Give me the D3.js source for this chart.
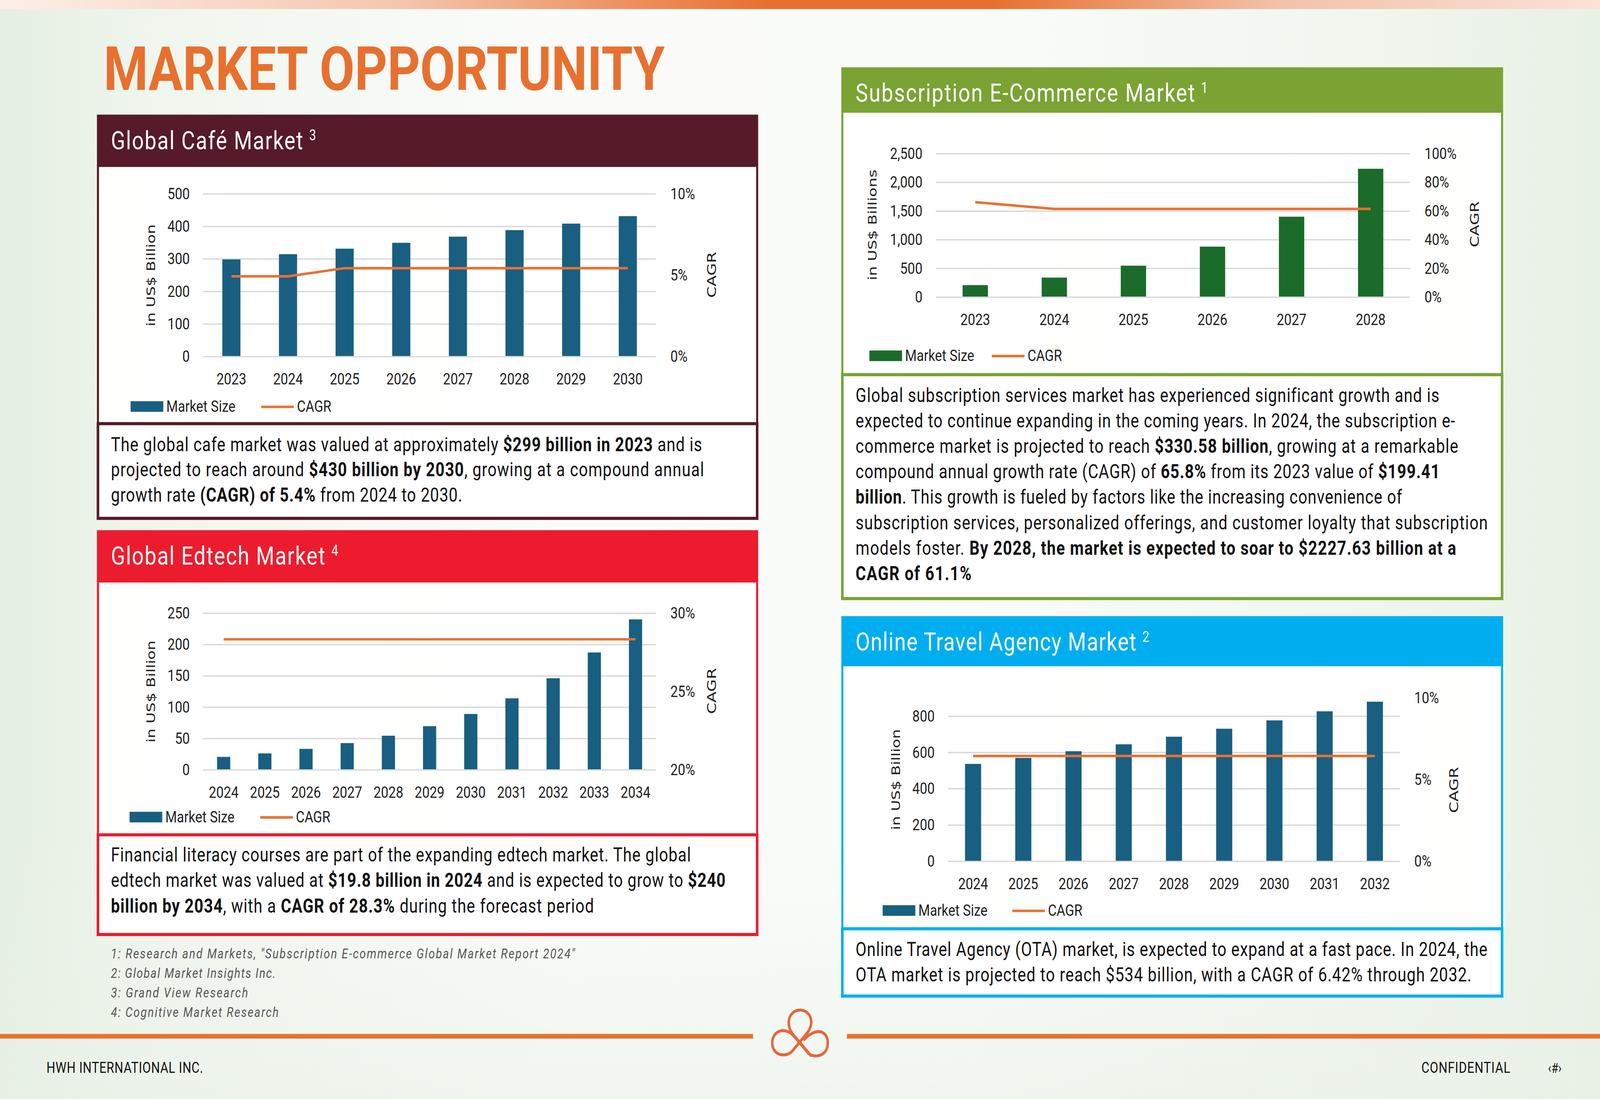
<!DOCTYPE html>
<html>
<head>
<meta charset="utf-8">
<script src="https://cdn.jsdelivr.net/npm/d3@7"></script>
<style>
html, body { margin: 0; padding: 0; width: 100%; height: 100%; overflow: hidden; background: #f3f7f1; }
svg { display: block; width: 100vw; height: 100vh; }
text { font-family: Roboto, "Noto Sans", sans-serif; white-space: pre; }
</style>
</head>
<body>
<svg id="slide" viewBox="0 0 1568 882" preserveAspectRatio="none"></svg>
<script>
'use strict'

// Global Café Market (US$ billion, CAGR %)
const cafeYears = ['2023', '2024', '2025', '2026', '2027', '2028', '2029', '2030'];
const cafeSize = [297, 313, 330, 348, 367, 387, 407, 430];
const cafeCagr = [4.9, 4.9, 5.4, 5.4, 5.4, 5.4, 5.4, 5.4];
const cafeSizeTicks = [0, 100, 200, 300, 400, 500];
const cafeCagrTicks = [0, 5, 10];

// Global Edtech Market
const edtechYears = ['2024', '2025', '2026', '2027', '2028', '2029', '2030', '2031', '2032', '2033', '2034'];
const edtechSize = [19.8, 25.4, 32.6, 41.8, 53.6, 68.8, 88.3, 113.3, 145.3, 186.5, 239.3];
const edtechCagr = [28.3, 28.3, 28.3, 28.3, 28.3, 28.3, 28.3, 28.3, 28.3, 28.3, 28.3];
const edtechSizeTicks = [0, 50, 100, 150, 200, 250];
const edtechCagrTicks = [20, 25, 30];

// Subscription E-Commerce Market
const subYears = ['2023', '2024', '2025', '2026', '2027', '2028'];
const subSize = [199.4, 330.6, 538, 870, 1392, 2227.6];
const subCagr = [65.8, 61.1, 61.1, 61.1, 61.1, 61.1];
const subSizeTicks = [0, 500, 1000, 1500, 2000, 2500];
const subCagrTicks = [0, 20, 40, 60, 80, 100];

// Online Travel Agency Market
const otaYears = ['2024', '2025', '2026', '2027', '2028', '2029', '2030', '2031', '2032'];
const otaSize = [534, 567, 604, 642, 684, 728, 774, 824, 877];
const otaCagr = [6.42, 6.42, 6.42, 6.42, 6.42, 6.42, 6.42, 6.42, 6.42];
const otaSizeTicks = [0, 200, 400, 600, 800];
const otaCagrTicks = [0, 5, 10];

const footnotes = [
    '1: Research and Markets, "Subscription E-commerce Global Market Report 2024"',
    '2: Global Market Insights Inc.',
    '3: Grand View Research',
    '4: Cognitive Market Research'
];

const BAR_BLUE = '#185f82';
const BAR_GREEN = '#1b6b2b';
const ORANGE = '#e8712f';

const svg = d3.select('#slide');

// stretch/shrink a text to a given width using letter spacing
function fitWidth(sel, target) {
    const node = sel.node();
    const w = node.getComputedTextLength();
    const n = node.textContent.length;
    if (n > 1) sel.attr('letter-spacing', (target - w) / (n - 1));
}

////////////////////////////////////////////
// Background

const defs = svg.append('defs');

const bg = defs.append('linearGradient').attr('id', 'bg').attr('x1', 0).attr('x2', 1).attr('y1', 0).attr('y2', 0);
[[0, '#e5efe2'], [0.1, '#f0f6ee'], [0.35, '#fbfcfa'], [0.6, '#fafcf9'], [0.88, '#eff5ed'], [1, '#e8f1e6']]
    .forEach(s => bg.append('stop').attr('offset', s[0]).attr('stop-color', s[1]));

const bgV = defs.append('linearGradient').attr('id', 'bgV').attr('x1', 0).attr('x2', 0).attr('y1', 0).attr('y2', 1);
[[0, '#ffffff', 0.0], [0.75, '#eef4ec', 0.0], [1, '#e9f1e7', 0.6]]
    .forEach(s => bgV.append('stop').attr('offset', s[0]).attr('stop-color', s[1]).attr('stop-opacity', s[2]));

const topBar = defs.append('linearGradient').attr('id', 'topBar').attr('x1', 0).attr('x2', 1).attr('y1', 0).attr('y2', 0);
[[0, '#fdefe8'], [0.25, '#f5c6ae'], [0.48, '#e8702f'], [0.62, '#e8702f'], [0.8, '#f3c2aa'], [1, '#fbe2d7']]
    .forEach(s => topBar.append('stop').attr('offset', s[0]).attr('stop-color', s[1]));

svg.append('rect').attr('width', 1568).attr('height', 882).attr('fill', 'url(#bg)');
svg.append('rect').attr('width', 1568).attr('height', 882).attr('fill', 'url(#bgV)');
svg.append('rect').attr('width', 1568).attr('height', 7.3).attr('fill', 'url(#topBar)');

// Title
svg.append('text')
    .attr('x', 101.5).attr('y', 72)
    .attr('textLength', 550).attr('lengthAdjust', 'spacingAndGlyphs')
    .style('font-size', '49px').style('font-weight', 700)
    .attr('fill', '#e8702f')
    .text('MARKET OPPORTUNITY');

////////////////////////////////////////////
// Panels

function drawPanel(p) {
    const g = svg.append('g');
    g.append('rect')
        .attr('x', p.x + 1).attr('y', p.headBottom)
        .attr('width', p.w - 2).attr('height', p.bodyBottom - p.headBottom)
        .attr('fill', '#ffffff').attr('fill-opacity', 0.9)
        .attr('stroke', p.color).attr('stroke-width', 2);
    g.append('rect')
        .attr('x', p.x + 1).attr('y', p.bodyBottom)
        .attr('width', p.w - 2).attr('height', p.textBottom - p.bodyBottom)
        .attr('fill', '#ffffff')
        .attr('stroke', p.color).attr('stroke-width', 2.5);
    g.append('rect')
        .attr('x', p.x).attr('y', p.headTop)
        .attr('width', p.w).attr('height', p.headBottom - p.headTop)
        .attr('fill', p.color);

    const title = g.append('text')
        .attr('x', p.textX).attr('y', p.titleY)
        .attr('fill', '#ffffff')
        .style('font-size', '20.5px')
        .text(p.title);
    fitWidth(title, p.titleEnd - p.textX);
    g.append('text')
        .attr('x', p.titleEnd + 6).attr('y', p.titleY - 7)
        .attr('fill', '#ffffff')
        .style('font-size', '12px')
        .text(p.sup);

    p.lines.forEach((segs, i) => {
        const t = g.append('text')
            .attr('x', p.textX).attr('y', p.lineY + i * p.lineGap)
            .attr('fill', '#111111')
            .style('font-size', '15.5px');
        segs.forEach(s => t.append('tspan').style('font-weight', s[1] ? 700 : 400).text(s[0]));
        fitWidth(t, p.lineEnds[i] - p.textX);
    });
    return g;
}

function drawChart(c) {
    const g = svg.append('g');

    const x = d3.scaleBand()
        .domain(c.years)
        .range([c.x0, c.x1])
        .paddingInner(0.68)
        .paddingOuter(0.34);

    const y = d3.scaleLinear().domain(c.sizeDomain).range([c.yBase, c.yTop]);
    const yR = d3.scaleLinear().domain(c.cagrDomain).range([c.yBase, c.yTop]);

    // left axis with gridlines
    const left = g.append('g')
        .attr('transform', `translate(${c.x0},0)`)
        .call(d3.axisLeft(y).tickValues(c.sizeTicks).tickSize(-(c.x1 - c.x0)).tickPadding(13).tickFormat(d3.format(',')));
    left.select('.domain').remove();
    left.selectAll('line').attr('stroke', '#d9d9d9').attr('stroke-width', 1.1);
    left.selectAll('text').style('font-size', '13px').attr('fill', '#1f1f1f');

    // right axis (CAGR)
    const right = g.append('g')
        .attr('transform', `translate(${c.x1},0)`)
        .call(d3.axisRight(yR).tickValues(c.cagrTicks).tickSize(0).tickPadding(14).tickFormat(d => d + '%'));
    right.select('.domain').remove();
    right.selectAll('text').style('font-size', '13px').attr('fill', '#1f1f1f');

    // x axis
    const bottom = g.append('g')
        .attr('transform', `translate(0,${c.yBase})`)
        .call(d3.axisBottom(x).tickSize(0).tickPadding(13.5));
    bottom.select('.domain').remove();
    bottom.selectAll('text').style('font-size', '13px').attr('fill', '#1f1f1f');

    // bars
    g.selectAll('.bar')
        .data(c.years.map((yr, i) => ({ year: yr, value: c.size[i] })))
        .enter().append('rect')
        .attr('class', 'bar')
        .attr('x', d => x(d.year))
        .attr('y', d => y(d.value))
        .attr('width', x.bandwidth())
        .attr('height', d => y(0) - y(d.value))
        .attr('fill', c.barColor);

    // CAGR line
    const line = d3.line()
        .x(d => x(d.year) + x.bandwidth() / 2)
        .y(d => yR(d.value));
    g.append('path')
        .datum(c.years.map((yr, i) => ({ year: yr, value: c.cagr[i] })))
        .attr('d', line)
        .attr('fill', 'none')
        .attr('stroke', ORANGE)
        .attr('stroke-width', 2);

    // axis titles
    const yTitle = g.append('text')
        .attr('transform', `translate(${c.yTitle[0]},${c.yTitle[1]}) rotate(-90)`)
        .attr('text-anchor', 'middle').attr('dy', '0.35em')
        .style('font-family', '"DejaVu Sans", sans-serif').style('font-size', '11.5px')
        .attr('fill', '#1f1f1f')
        .text(c.yLabel);
    yTitle.attr('textLength', c.yTitleLen).attr('lengthAdjust', 'spacingAndGlyphs');
    g.append('text')
        .attr('transform', `translate(${c.cagrTitle[0]},${c.cagrTitle[1]}) rotate(-90)`)
        .attr('text-anchor', 'middle').attr('dy', '0.35em')
        .style('font-family', '"DejaVu Sans", sans-serif').style('font-size', '12px')
        .attr('textLength', 37).attr('lengthAdjust', 'spacingAndGlyphs')
        .attr('fill', '#1f1f1f')
        .text('CAGR');

    // legend
    const lg = c.legend;
    g.append('rect').attr('x', lg.sx).attr('y', lg.ty - 8.5).attr('width', 32).attr('height', 8.5).attr('fill', c.barColor);
    g.append('text').attr('x', lg.sx + 35).attr('y', lg.ty)
        .style('font-size', '13px').attr('fill', '#1f1f1f').text('Market Size');
    g.append('line').attr('x1', lg.lx).attr('x2', lg.lx + 32).attr('y1', lg.ty - 4).attr('y2', lg.ty - 4)
        .attr('stroke', ORANGE).attr('stroke-width', 2);
    g.append('text').attr('x', lg.lx + 35).attr('y', lg.ty)
        .style('font-size', '13px').attr('fill', '#1f1f1f').text('CAGR');
}

// Global Café Market
drawPanel({
    x: 95, w: 648, headTop: 92, headBottom: 133, bodyBottom: 340, textBottom: 416,
    color: '#561a28', title: 'Global Café Market', sup: '3', titleY: 119.7, titleEnd: 297,
    textX: 108.7, lineY: 362, lineGap: 20.3, lineEnds: [688, 690, 453],
    lines: [
        [['The global cafe market was valued at approximately ', 0], ['$299 billion in 2023', 1], [' and is', 0]],
        [['projected to reach around ', 0], ['$430 billion by 2030', 1], [', growing at a compound annual', 0]],
        [['growth rate ', 0], ['(CAGR) of 5.4%', 1], [' from 2024 to 2030.', 0]]
    ]
});
drawChart({
    years: cafeYears, size: cafeSize, cagr: cafeCagr, sizeTicks: cafeSizeTicks, cagrTicks: cafeCagrTicks,
    sizeDomain: [0, 500], cagrDomain: [0, 10], x0: 199, x1: 643, yBase: 285.7, yTop: 155.2,
    barColor: BAR_BLUE, yLabel: 'in US$ Billion', yTitle: [147.8, 221], yTitleLen: 82, cagrTitle: [697.4, 220.5],
    legend: { sx: 128, lx: 256, ty: 330.5 }
});

// Global Edtech Market
drawPanel({
    x: 95, w: 648, headTop: 425.5, headBottom: 466.5, bodyBottom: 670, textBottom: 750,
    color: '#ec1c2e', title: 'Global Edtech Market', sup: '4', titleY: 453, titleEnd: 318.7,
    textX: 108.7, lineY: 691.4, lineGap: 20.5, lineEnds: [677, 711, 582],
    lines: [
        [['Financial literacy courses are part of the expanding edtech market. The global', 0]],
        [['edtech market was valued at ', 0], ['$19.8 billion in 2024', 1], [' and is expected to grow to ', 0], ['$240', 1]],
        [['billion by 2034', 1], [', with a ', 0], ['CAGR of 28.3%', 1], [' during the forecast period', 0]]
    ]
});
drawChart({
    years: edtechYears, size: edtechSize, cagr: edtechCagr, sizeTicks: edtechSizeTicks, cagrTicks: edtechCagrTicks,
    sizeDomain: [0, 250], cagrDomain: [20, 30], x0: 199, x1: 643, yBase: 617.4, yTop: 491.7,
    barColor: BAR_BLUE, yLabel: 'in US$ Billion', yTitle: [147.8, 555], yTitleLen: 82, cagrTitle: [697.4, 554.5],
    legend: { sx: 127, lx: 255, ty: 660 }
});

// Subscription E-Commerce Market
drawPanel({
    x: 824.5, w: 648.5, headTop: 54, headBottom: 89.5, bodyBottom: 300.7, textBottom: 480.4,
    color: '#7aa334', title: 'Subscription E-Commerce Market', sup: '1', titleY: 81.5, titleEnd: 1171,
    textX: 838.5, lineY: 322.7, lineGap: 20.4, lineEnds: [1410, 1426, 1429, 1411, 1374, 1458, 1427, 952],
    lines: [
        [['Global subscription services market has experienced significant growth and is', 0]],
        [['expected to continue expanding in the coming years. In 2024, the subscription e-', 0]],
        [['commerce market is projected to reach ', 0], ['$330.58 billion', 1], [', growing at a remarkable', 0]],
        [['compound annual growth rate (CAGR) of ', 0], ['65.8%', 1], [' from its 2023 value of ', 0], ['$199.41', 1]],
        [['billion', 1], ['. This growth is fueled by factors like the increasing convenience of', 0]],
        [['subscription services, personalized offerings, and customer loyalty that subscription', 0]],
        [['models foster. ', 0], ['By 2028, the market is expected to soar to $2227.63 billion at a', 1]],
        [['CAGR of 61.1%', 1]]
    ]
});
drawChart({
    years: subYears, size: subSize, cagr: subCagr, sizeTicks: subSizeTicks, cagrTicks: subCagrTicks,
    sizeDomain: [0, 2500], cagrDomain: [0, 100], x0: 917, x1: 1382, yBase: 238, yTop: 122.9,
    barColor: BAR_GREEN, yLabel: 'in US$ Billions', yTitle: [855, 180.5], yTitleLen: 89, cagrTitle: [1445, 180],
    legend: { sx: 852, lx: 972, ty: 289.8 }
});

// Online Travel Agency Market
drawPanel({
    x: 824.5, w: 648.5, headTop: 494.5, headBottom: 533.7, bodyBottom: 745.4, textBottom: 799.4,
    color: '#00aeef', title: 'Online Travel Agency Market', sup: '2', titleY: 522, titleEnd: 1113.5,
    textX: 838.5, lineY: 767.3, lineGap: 20.4, lineEnds: [1457.6, 1442],
    lines: [
        [['Online Travel Agency (OTA) market, is expected to expand at a fast pace. In 2024, the', 0]],
        [['OTA market is projected to reach $534 billion, with a CAGR of 6.42% through 2032.', 0]]
    ]
});
drawChart({
    years: otaYears, size: otaSize, cagr: otaCagr, sizeTicks: otaSizeTicks, cagrTicks: otaCagrTicks,
    sizeDomain: [0, 900], cagrDomain: [0, 10], x0: 929, x1: 1372, yBase: 690.8, yTop: 559.8,
    barColor: BAR_BLUE, yLabel: 'in US$ Billion', yTitle: [878, 625.6], yTitleLen: 81, cagrTitle: [1425, 634],
    legend: { sx: 865, lx: 992, ty: 735 }
});

////////////////////////////////////////////
// Footnotes and footer

const noteEnds = [563.5, 270, 243, 273];
footnotes.forEach((t, i) => {
    const n = svg.append('text')
        .attr('x', 108.7).attr('y', 769 + i * 15.7)
        .style('font-size', '11px').style('font-style', 'italic')
        .attr('fill', '#555555')
        .text(t);
    fitWidth(n, noteEnds[i] - 108.7);
});

svg.append('rect').attr('x', 0).attr('y', 829.8).attr('width', 738).attr('height', 3.7).attr('fill', ORANGE);
svg.append('rect').attr('x', 830).attr('y', 829.8).attr('width', 738).attr('height', 3.7).attr('fill', ORANGE);

// logo
svg.append('path')
    .attr('d', 'M794.5 847 L776.5 829.5 C770 822.5 772.5 811 784 810.6 C795.5 811 798.5 822 790.5 829.5 L776.5 843.5 '
        + 'C771 848.5 757.5 848 756.8 837.5 C756.5 827 769.5 823.5 778 831.5 L792.5 845.5 '
        + 'C797.5 849 810.5 848.5 811.2 837.5 C811.5 826.5 799 824.5 788.2 834.2')
    .attr('fill', 'none')
    .attr('stroke', '#e8653a')
    .attr('stroke-width', 2.4)
    .attr('stroke-linecap', 'round');

const hwh = svg.append('text')
    .attr('x', 45.6).attr('y', 861)
    .style('font-size', '12px').attr('fill', '#111111')
    .text('HWH INTERNATIONAL INC.');
fitWidth(hwh, 199 - 45.6);

const conf = svg.append('text')
    .attr('x', 1393).attr('y', 861)
    .style('font-size', '12px').attr('fill', '#111111')
    .text('CONFIDENTIAL');
fitWidth(conf, 1480 - 1393);

svg.append('text')
    .attr('x', 1517).attr('y', 861)
    .style('font-size', '11px').attr('fill', '#111111')
    .text('‹#›');
</script>
</body>
</html>
